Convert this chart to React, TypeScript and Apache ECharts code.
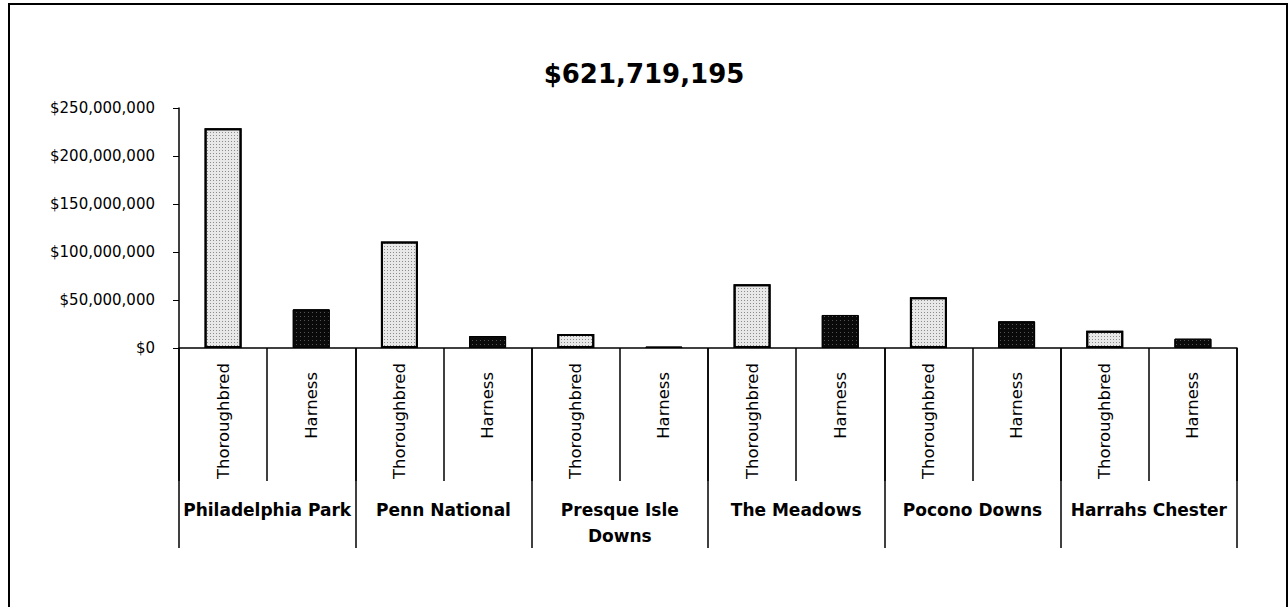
import React, { useEffect, useRef } from "react";
import * as echarts from "echarts";

const title = "$621,719,195";
const venues = ["Philadelphia Park", "Penn National", "Presque Isle\nDowns", "The Meadows", "Pocono Downs", "Harrahs Chester"];
const breeds = ["Thoroughbred", "Harness"];
const thoroughbred = [229000000, 111000000, 14600000, 66300000, 52800000, 18000000];
const harness = [40300000, 12500000, 1500000, 34400000, 27800000, 9700000];
const yTicks = { min: 0, max: 250000000, interval: 50000000 };

const FONT = "DejaVu Sans";

export default function App() {
  const ref = useRef<HTMLDivElement>(null);
  useEffect(() => {
    document.body.style.margin = "0";
    const chart = echarts.init(ref.current!, null, { renderer: "svg" });
    const cats: string[] = [];
    const data: any[] = [];
    venues.forEach((v, i) => {
      cats.push(breeds[0]);
      data.push({
        value: thoroughbred[i],
        itemStyle: {
          color: "#e8e8e8",
          borderColor: "#000",
          borderWidth: 2,
          decal: { symbol: "rect", symbolSize: 1, color: "rgba(0,0,0,0.4)", dashArrayX: [1, 2], dashArrayY: [1, 2] },
        },
      });
      cats.push(breeds[1]);
      data.push({
        value: harness[i],
        itemStyle: {
          color: "#0a0a0a",
          borderColor: "#000",
          borderWidth: 1,
          decal: { symbol: "rect", symbolSize: 1, color: "rgba(255,255,255,0.3)", dashArrayX: [1, 3], dashArrayY: [1, 3] },
        },
      });
    });
    chart.setOption({
      animation: false,
      backgroundColor: "#fff",
      title: {
        text: title,
        left: "center",
        top: 56,
        textStyle: { fontFamily: FONT, fontSize: 26, fontWeight: "bold", color: "#000" },
      },
      graphic: [
        {
          type: "rect",
          shape: { x: 9, y: 4, width: 1278, height: 620 },
          style: { fill: "none", stroke: "#000", lineWidth: 2 },
          silent: true,
        },
      ],
      grid: { left: 179, right: 51, top: 108, bottom: 259, containLabel: false },
      xAxis: [
        {
          type: "category",
          data: cats,
          position: "bottom",
          axisLine: { show: true, lineStyle: { color: "#000", width: 1.5 } },
          axisTick: { show: true, length: 133, lineStyle: { color: "#000", width: 1.5 } },
          axisLabel: {
            interval: 0,
            rotate: 90,
            margin: 15,
            fontFamily: FONT,
            fontSize: 16.5,
            color: "#000",
            formatter: (v: string) => (v === "Harness" ? "{h|" + v + "}" : "{t|" + v + "}"),
            rich: {
              t: { fontFamily: FONT, fontSize: 16.5, color: "#000" },
              h: { fontFamily: FONT, fontSize: 16.5, color: "#000", padding: [0, 9, 0, 0] },
            },
          },
        },
        {
          type: "category",
          data: venues,
          position: "bottom",
          axisLine: { show: false },
          axisTick: { show: true, length: 200, lineStyle: { color: "#000", width: 1.5 } },
          axisLabel: {
            interval: 0,
            margin: 149,
            fontFamily: FONT,
            fontSize: 17,
            fontWeight: "bold",
            lineHeight: 26,
            color: "#000",
          },
        },
      ],
      yAxis: {
        type: "value",
        min: yTicks.min,
        max: yTicks.max,
        interval: yTicks.interval,
        axisLine: { show: true, lineStyle: { color: "#000", width: 1.5 } },
        axisTick: { show: true, length: 6, lineStyle: { color: "#000" } },
        splitLine: { show: false },
        axisLabel: {
          margin: 24,
          fontFamily: FONT,
          fontSize: 15,
          color: "#000",
          formatter: (v: number) => "$" + v.toLocaleString("en-US"),
        },
      },
      series: [
        {
          type: "bar",
          xAxisIndex: 0,
          data,
          barWidth: 37,
        },
      ],
    });
    return () => chart.dispose();
  }, []);
  return <div ref={ref} style={{ width: 1288, height: 607 }} />;
}
